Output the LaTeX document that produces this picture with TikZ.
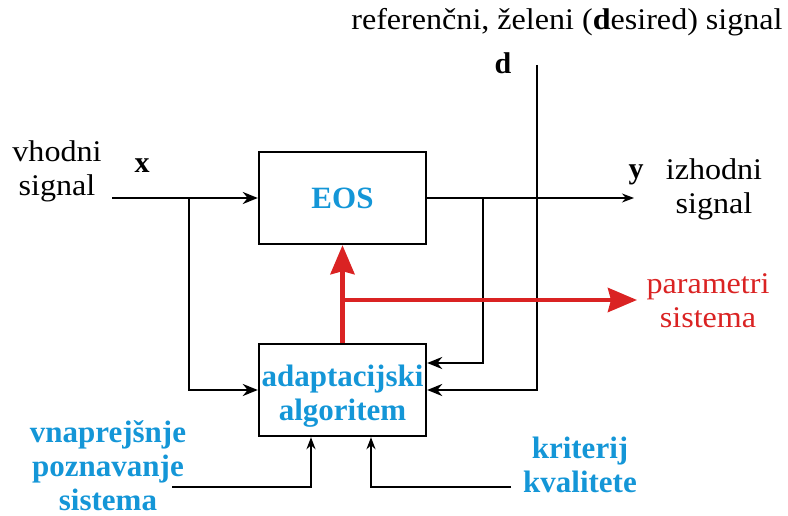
\documentclass[tikz,border=0pt]{standalone}
\usepackage{fontspec}
\setmainfont{Liberation Serif}
\newfontfamily\widefont{Liberation Serif}[FakeStretch=1.07]
\usetikzlibrary{arrows.meta}
\definecolor{algblue}{RGB}{20,150,215}
\definecolor{parred}{RGB}{218,35,35}

\begin{document}
\begin{tikzpicture}[x=1pt, y=-1pt,
    sig/.style={line width=2.4pt, -{Stealth[length=15pt,width=12pt]}},
    sigsmall/.style={line width=2.4pt, -{Stealth[length=12pt,width=9pt]}},
    par/.style={parred, line width=4.5pt, -{Stealth[length=29pt,width=24pt,inset=3pt]}},
    block/.style={draw, line width=2.4pt, minimum width=167pt, minimum height=92pt, inner sep=0pt},
    txt/.style={font=\widefont\fontsize{30}{34}\selectfont, align=center, inner sep=0pt},
    bluetxt/.style={text=algblue, font=\fontsize{31}{34}\selectfont\bfseries, align=center, inner sep=0pt}]

  \useasboundingbox (0,0) rectangle (788,516);

  % Blocks
  \node[block, bluetxt] (eos) at (342.5,198) {EOS};
  \node[block] (alg) at (342.5,390) {};
  \node[bluetxt] (algtxt) at (342.5,396) {adaptacijski\\algoritem};

  % Signals
  \node[txt, anchor=base] (ref) at (567,30) {referenčni, želeni (\textbf{d}esired) signal};
  \node[txt, anchor=base, font=\fontsize{30}{34}\selectfont\bfseries] (dlab) at (503,74) {d};
  \node[txt] (vhod) at (57,171) {vhodni\\signal};
  \node[txt, anchor=base, font=\fontsize{30}{34}\selectfont\bfseries] (xlab) at (142,173) {x};
  \node[txt, anchor=base, font=\fontsize{30}{34}\selectfont\bfseries] (ylab) at (636,179) {y};
  \node[txt] (izhod) at (714,189.5) {izhodni\\signal};
  \node[txt, text=parred] (parlab) at (708,301) {parametri\\sistema};
  \node[bluetxt] (znanje) at (108,466) {vnaprejšnje\\poznavanje\\sistema};
  \node[bluetxt] (krit) at (580,465) {kriterij\\kvalitete};

  \coordinate (xin) at (112,198);
  \coordinate (xbr) at (189,198);
  \coordinate (yj) at (483,198);
  \coordinate (yout) at (634,198);
  \coordinate (dtop) at (537,65);
  \coordinate (pj) at (342.5,300);
  \coordinate (pout) at (637,300);
  \coordinate (zin) at (172,487);
  \coordinate (kin) at (511,487);

  % Input x
  \draw[sig] (xin) -- (eos.west);
  \draw[sig] (xbr) |- (alg.west);

  % Output y
  \draw[line width=2.4pt] (eos.east) -- (yj);
  \draw[line width=1.3pt, -{Stealth[length=12pt,width=9pt]}] (yj) -- (yout);
  \draw[sig] (yj) |- ([yshift=27pt]alg.east);

  % Desired d
  \draw[sig] (dtop) |- (alg.east);

  % Parameters
  \draw[par] (alg.north) -- (eos.south);
  \draw[par] (pj) -- (pout);

  % Prior knowledge, criterion
  \draw[sigsmall] (zin) -| ([xshift=-31.5pt]alg.south);
  \draw[sigsmall] (kin) -| ([xshift=28.5pt]alg.south);

\end{tikzpicture}
\end{document}
